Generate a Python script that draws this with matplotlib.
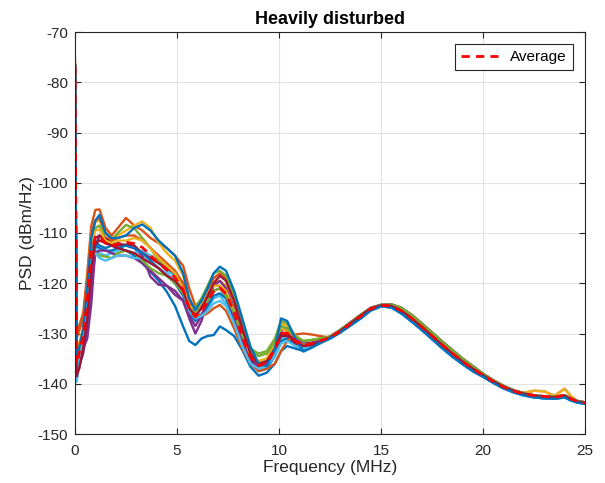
import numpy as np
import matplotlib
matplotlib.use("Agg")
import matplotlib.pyplot as plt

plt.rcParams['font.family'] = ['Liberation Sans', 'DejaVu Sans']
plt.rcParams['axes.unicode_minus'] = False

# Frequency grid (MHz) for the low-frequency part of each curve
F_HEAD = [0, 0.08, 0.2, 0.4, 0.6, 0.8, 1.0, 1.2, 1.5, 1.8, 2.1, 2.5, 2.9, 3.3, 3.7,
          4.1, 4.5, 4.9, 5.3, 5.6, 5.9, 6.2, 6.5, 6.8, 7.1, 7.4, 7.8, 8.2, 8.6, 9.0,
          9.4, 9.8, 10.1, 10.4, 10.8, 11.2, 11.6, 12.0]
# Frequency grid (MHz) for the high-frequency part, where the curves converge
F_TAIL = [12.5, 13, 13.5, 14, 14.5, 15, 15.5, 16, 16.5, 17, 17.5, 18, 18.5, 19, 19.5,
          20, 20.5, 21, 21.5, 22, 22.5, 23, 23.5, 24, 24.3, 24.6, 25]

TAIL_MID = [-130.8, -129.5, -128.0, -126.5, -125.0, -124.4, -124.5, -125.5, -127.0, -128.7,
            -130.5, -132.3, -134.0, -135.6, -137.0, -138.3, -139.5, -140.6, -141.4, -142.0,
            -142.4, -142.6, -142.7, -142.4, -143.0, -143.5, -143.8]
TAIL_HIGH = [-130.6, -129.3, -127.8, -126.3, -124.9, -124.3, -124.2, -124.9, -126.3, -128.0,
             -129.8, -131.6, -133.3, -135.0, -136.5, -138.0, -139.3, -140.4, -141.3, -141.9,
             -142.3, -142.5, -142.6, -142.3, -142.9, -143.4, -143.7]
TAIL_LOW = [-131.0, -129.8, -128.4, -127.0, -125.4, -124.6, -124.8, -126.0, -127.6, -129.3,
            -131.1, -132.9, -134.6, -136.1, -137.5, -138.6, -139.8, -140.9, -141.7, -142.3,
            -142.7, -142.9, -143.0, -142.7, -143.3, -143.7, -144.0]
TAIL_BUMP = [-130.8, -129.5, -128.0, -126.5, -125.0, -124.4, -124.5, -125.5, -127.0, -128.7,
             -130.5, -132.3, -134.0, -135.6, -137.0, -138.3, -139.5, -140.6, -141.4, -141.8,
             -141.4, -141.5, -142.4, -141.0, -142.4, -143.4, -143.8]

# PSD heads (dBm/Hz) for the 15 measured curves
S01 = [-76.6, -139.5, -135, -130, -121, -113, -111.5, -112.5, -113, -112.5, -113, -113.5, -114.5, -116, -117.7, -119.5, -121.7, -124.5, -128.6, -131.5, -132.3, -131, -130.5, -130.3, -128.6, -129.3, -130.5, -133.3, -136.6, -138.4, -137.8, -136, -133.5, -132.5, -133, -133.5, -132.8, -132]
S02 = [-75.4, -130, -128.5, -126, -118, -108.5, -105.4, -105.3, -109, -110.5, -109, -107, -108.5, -109.5, -111, -112, -113, -114.5, -116.5, -121, -124.5, -123.5, -121.5, -119, -118, -119, -123, -129, -134, -136.5, -135.5, -132.5, -129, -129.5, -131.5, -132.5, -132, -131.3]
S03 = [-76.5, -134, -132, -129, -120, -110, -107.8, -107.5, -110, -111, -110.5, -109.5, -108.5, -107.7, -109, -112, -114, -115.5, -118.5, -123, -125, -124, -122, -120, -119.5, -120.5, -124, -130, -134.5, -135.5, -135, -131.5, -128, -128.5, -131, -132.5, -132, -131.5]
S04 = [-77, -137.5, -137, -133, -131, -124, -113, -110.5, -111.5, -112.5, -112, -112.5, -113, -114.5, -118.7, -120.3, -120.5, -122.3, -123.5, -127, -130, -127.5, -123.5, -120.5, -119.5, -121, -125, -130.5, -135, -137, -136, -132.5, -129.5, -129, -131, -132, -131.8, -131.3]
S05 = [-76.8, -135, -133, -130, -121, -111, -109, -108.5, -111, -111.5, -110, -108.4, -109, -111, -113, -115.5, -116.5, -118.5, -121, -124.5, -124.7, -123, -120.5, -118, -117.5, -118.5, -122.5, -128, -133, -134, -133.5, -131, -127.5, -128, -130.5, -131.5, -131.3, -131]
S06 = [-77, -139.6, -136, -131, -123, -114, -113, -114, -114.5, -114, -113.5, -113.5, -114, -113.5, -114.5, -116, -117.5, -118.5, -121, -125, -126.5, -126, -125, -123, -122.5, -124, -127.5, -132, -135.5, -137, -136.5, -134, -131, -130.5, -131.5, -132.5, -132.3, -131.7]
S07 = [-77.5, -138, -136, -132, -125, -115, -111, -110.5, -111, -112, -112.5, -112.3, -112.5, -114, -115, -116, -117, -118, -120, -124, -125.5, -124.5, -122.5, -120.5, -120.5, -122, -126, -131, -135, -136.5, -136, -133, -130.5, -130.5, -132, -132.5, -132.3, -131.7]
S08 = [-76.6, -136, -134, -130.5, -123, -114, -112.5, -113, -113.5, -113.5, -113, -112.5, -113, -114, -115.5, -117, -118.5, -120, -122.5, -126, -127.5, -126.5, -124.5, -122.5, -122, -123, -127, -132, -135.5, -137.5, -137, -134.5, -131.5, -131, -132.5, -133.3, -132.5, -131.8]
S09 = [-76.5, -131, -129.5, -127, -120, -110, -107.5, -107, -110, -111.5, -111, -110.5, -110.5, -111.5, -113, -114.5, -116, -117.5, -120, -124, -126, -126.5, -126, -125, -124.3, -125.5, -129, -133, -136, -137.5, -137, -136, -133.5, -131.5, -130.2, -130, -130.2, -130.5]
S10 = [-76.8, -135.5, -133, -130, -122, -112, -109.5, -109.3, -111.5, -112, -111.5, -111.5, -111, -111.5, -113, -115, -116.5, -118, -121, -124.5, -125.5, -124, -122, -120.5, -120.5, -121.5, -125.5, -131, -134.5, -135.5, -135, -132, -129, -129.5, -131.5, -132.3, -132, -131.5]
S11 = [-77.3, -137, -136.5, -134, -129, -120, -114, -113.5, -113.5, -114, -114.5, -114.5, -115, -116, -117.5, -119, -120.5, -121.5, -123.5, -126.5, -128.5, -126.5, -123.5, -121.5, -121, -122.5, -126.5, -131.5, -135.5, -136.5, -136, -133, -130, -130, -131.5, -132.5, -132, -131.5]
S12 = [-77, -136, -134, -131, -124, -115, -114, -114.5, -114.7, -115, -114, -113.5, -114, -115.5, -117, -118, -118.5, -120, -122, -125, -125.5, -125, -123.5, -121.5, -121, -122.5, -126, -130.5, -133.5, -134.5, -134, -131.5, -128.5, -129, -130.5, -131.5, -131.3, -131]
S13 = [-77, -138.5, -135.5, -131.5, -124, -115, -114, -115, -115.5, -115, -114.5, -114.5, -115, -115, -116, -117, -118, -119.5, -121.5, -125.5, -127, -126.5, -125.5, -124, -123.5, -124.5, -128, -132.5, -136, -137, -136.5, -134.5, -132, -131.5, -132.5, -133, -132.5, -131.8]
S14 = [-77.5, -138.5, -137, -133, -127, -117, -112, -111.5, -112, -112.5, -113, -113.5, -114, -115, -116, -117, -118.5, -119.5, -121.5, -125, -126.5, -125, -122.5, -120, -118.5, -119.5, -123.5, -129, -134, -136, -135.5, -133, -130, -130, -131.5, -132.5, -132.3, -131.7]
S15 = [-76.6, -135, -133, -129, -121, -111, -107.5, -106.4, -110, -111, -111, -110.5, -109, -108.3, -109.5, -111.5, -113, -114.5, -118, -123, -125.3, -123.5, -121, -118, -116.7, -117.5, -121.5, -127, -132.6, -136, -136.5, -133, -127, -127.5, -131, -133.6, -132.8, -131.8]

HEADS = [S01, S02, S03, S04, S05, S06, S07, S08, S09, S10, S11, S12, S13, S14, S15]
TAILS = [TAIL_LOW, TAIL_BUMP, TAIL_MID, TAIL_HIGH, TAIL_HIGH, TAIL_MID, TAIL_MID,
         TAIL_LOW, TAIL_MID, TAIL_BUMP, TAIL_HIGH, TAIL_HIGH, TAIL_LOW, TAIL_MID, TAIL_LOW]

COLORS = ['#0072BD', '#D95319', '#EDB120', '#7E2F8E', '#77AC30', '#4DBEEE', '#A2142F']

X_TICKS = [0, 5, 10, 15, 20, 25]
Y_TICKS = [-150, -140, -130, -120, -110, -100, -90, -80, -70]

freq = np.array(F_HEAD + F_TAIL)
curves = np.array([h + t for h, t in zip(HEADS, TAILS)])
average = curves.mean(axis=0)

fig = plt.figure(figsize=(6.05, 4.83), dpi=100)
ax = fig.add_axes([75 / 605, 1 - 434 / 483, 510 / 605, 402 / 483])

for i, c in enumerate(curves):
    ax.plot(freq, c, color=COLORS[i % len(COLORS)], lw=1.7, solid_joinstyle='round')
ax.plot(freq, average, color='#FF0000', lw=2.0, ls=(0, (3, 2.2)), label='Average')

ax.set_xlim(0, 25)
ax.set_ylim(-150, -70)
ax.set_xticks(X_TICKS)
ax.set_yticks(Y_TICKS)
ax.grid(True, color='#E3E3E3', lw=0.8)
ax.set_axisbelow(True)
ax.tick_params(direction='in', length=4, width=0.8, colors='#262626', labelsize=11,
               top=True, right=True)
ax.tick_params(axis='x', pad=7.5)
ax.tick_params(axis='y', pad=5)
for sp in ax.spines.values():
    sp.set_color('#262626')
    sp.set_linewidth(0.8)

ax.set_xlabel('Frequency (MHz)', fontsize=12.5, color='#262626', labelpad=1)
ax.set_ylabel('PSD (dBm/Hz)', fontsize=12.5, color='#262626', labelpad=2)
ax.set_title('Heavily disturbed', fontsize=13, fontweight='bold', color='black', pad=6)

leg = ax.legend(loc='upper right', fontsize=11, frameon=True, fancybox=False,
                edgecolor='#262626', framealpha=1, borderpad=0.4, handlelength=2.4,
                borderaxespad=0.8)
leg.get_frame().set_linewidth(0.8)

fig.savefig('out.png', dpi=100)
